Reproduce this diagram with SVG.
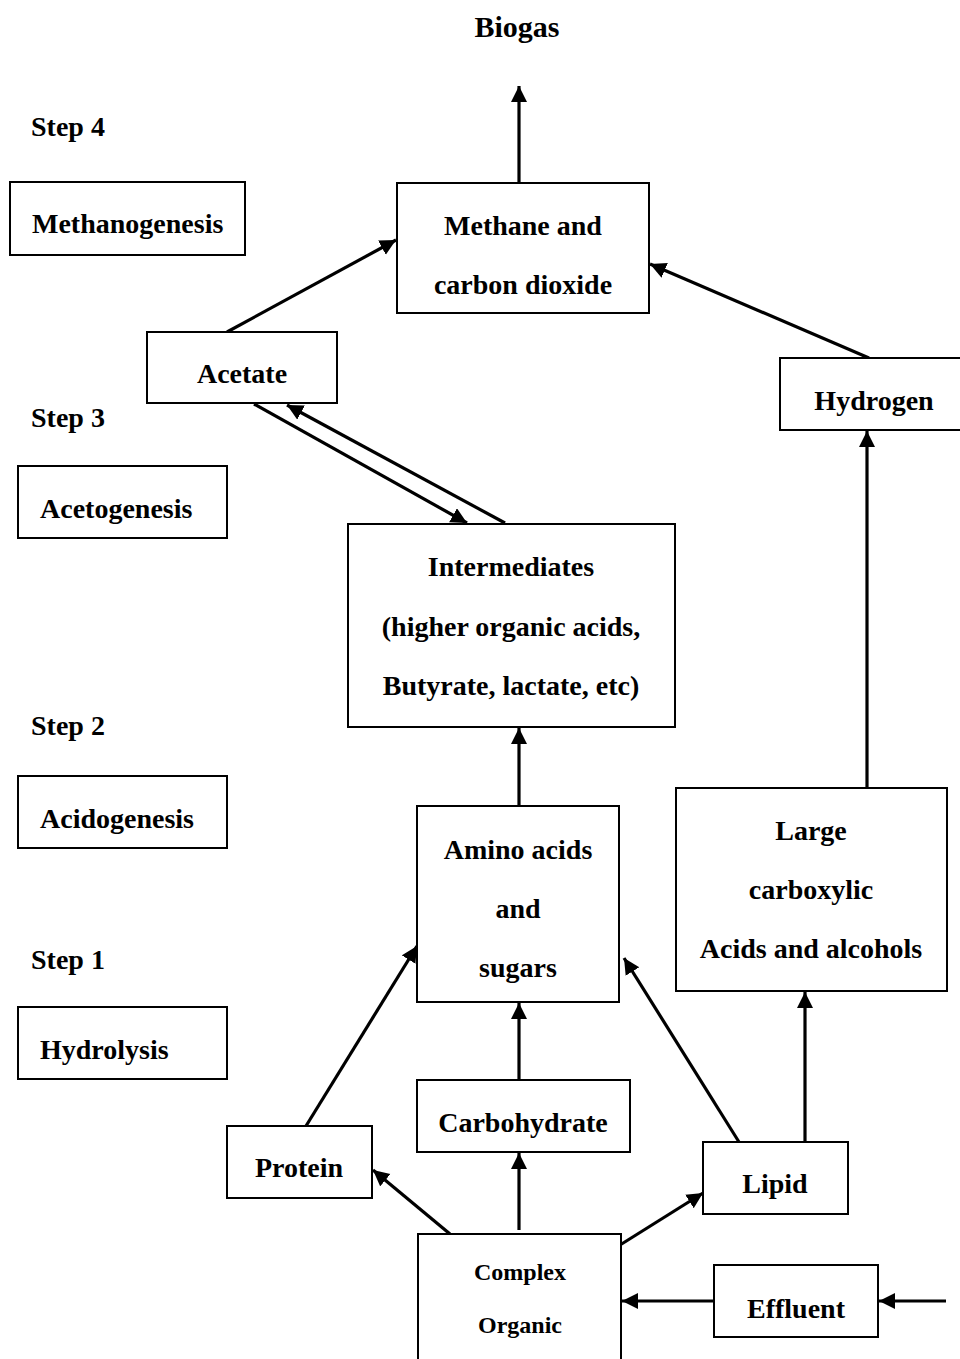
<svg xmlns="http://www.w3.org/2000/svg" width="960" height="1359" viewBox="0 0 960 1359">
<style>
.box{fill:#fff;stroke:#000;stroke-width:2}
.t{font-family:"Liberation Serif","Times New Roman",serif;font-weight:bold;font-size:28px;fill:#000}
.c{text-anchor:middle}
.s{font-size:24px}
.edge{stroke:#000;stroke-width:3.2;fill:none;marker-end:url(#ah)}
</style>
<defs>
<marker id="ah" markerUnits="userSpaceOnUse" markerWidth="17" markerHeight="17" refX="16" refY="8" orient="auto">
<path d="M0,0 L16,8 L0,16 z" fill="#000"/>
</marker>
</defs>
<rect width="960" height="1359" fill="#fff"/>
<g id="labels">
<text class="t c" x="517" y="37" style="font-size:30px">Biogas</text>
<text class="t" x="31" y="136">Step 4</text>
<text class="t" x="31" y="427">Step 3</text>
<text class="t" x="31" y="735">Step 2</text>
<text class="t" x="31" y="969">Step 1</text>
</g>
<g id="connectors">
<line class="edge" x1="519" y1="183" x2="519" y2="86"/>
<line class="edge" x1="227" y1="332" x2="396" y2="240"/>
<line class="edge" x1="869" y1="358" x2="650" y2="264"/>
<line class="edge" x1="254" y1="404" x2="467" y2="523"/>
<line class="edge" x1="505" y1="523" x2="287" y2="405"/>
<line class="edge" x1="519" y1="806" x2="519" y2="728"/>
<line class="edge" x1="867" y1="788" x2="867" y2="431"/>
<line class="edge" x1="306" y1="1126" x2="417" y2="946"/>
<line class="edge" x1="519" y1="1080" x2="519" y2="1003"/>
<line class="edge" x1="739" y1="1142" x2="624" y2="958"/>
<line class="edge" x1="805" y1="1142" x2="805" y2="992"/>
<line class="edge" x1="450" y1="1234" x2="373" y2="1170"/>
<line class="edge" x1="519" y1="1230" x2="519" y2="1153"/>
<line class="edge" x1="620" y1="1245" x2="703" y2="1193"/>
<line class="edge" x1="713" y1="1301" x2="622" y2="1301"/>
<line class="edge" x1="946" y1="1301" x2="879" y2="1301"/>
</g>
<g id="methanogenesis">
<rect class="box" x="10" y="182" width="235" height="73"/>
<text class="t" x="32" y="233">Methanogenesis</text>
</g>
<g id="methane">
<rect class="box" x="397" y="183" width="252" height="130"/>
<text class="t c" x="523" y="235">Methane and</text>
<text class="t c" x="523" y="294">carbon dioxide</text>
</g>
<g id="acetate">
<rect class="box" x="147" y="332" width="190" height="71"/>
<text class="t c" x="242" y="383">Acetate</text>
</g>
<g id="hydrogen">
<rect class="box" x="780" y="358" width="190" height="72"/>
<text class="t c" x="874" y="410">Hydrogen</text>
</g>
<g id="acetogenesis">
<rect class="box" x="18" y="466" width="209" height="72"/>
<text class="t" x="40" y="518">Acetogenesis</text>
</g>
<g id="intermediates">
<rect class="box" x="348" y="524" width="327" height="203"/>
<text class="t c" x="511" y="576">Intermediates</text>
<text class="t c" x="511" y="636">(higher organic acids,</text>
<text class="t c" x="511" y="695">Butyrate, lactate, etc)</text>
</g>
<g id="acidogenesis">
<rect class="box" x="18" y="776" width="209" height="72"/>
<text class="t" x="40" y="828">Acidogenesis</text>
</g>
<g id="amino">
<rect class="box" x="417" y="806" width="202" height="196"/>
<text class="t c" x="518" y="859">Amino acids</text>
<text class="t c" x="518" y="918">and</text>
<text class="t c" x="518" y="977">sugars</text>
</g>
<g id="large">
<rect class="box" x="676" y="788" width="271" height="203"/>
<text class="t c" x="811" y="840">Large</text>
<text class="t c" x="811" y="899">carboxylic</text>
<text class="t c" x="811" y="958">Acids and alcohols</text>
</g>
<g id="hydrolysis">
<rect class="box" x="18" y="1007" width="209" height="72"/>
<text class="t" x="40" y="1059">Hydrolysis</text>
</g>
<g id="carbohydrate">
<rect class="box" x="417" y="1080" width="213" height="72"/>
<text class="t c" x="523" y="1132">Carbohydrate</text>
</g>
<g id="protein">
<rect class="box" x="227" y="1126" width="145" height="72"/>
<text class="t c" x="299" y="1177">Protein</text>
</g>
<g id="lipid">
<rect class="box" x="703" y="1142" width="145" height="72"/>
<text class="t c" x="775" y="1193">Lipid</text>
</g>
<g id="complex">
<rect class="box" x="418" y="1234" width="203" height="140"/>
<text class="t c s" x="520" y="1280">Complex</text>
<text class="t c s" x="520" y="1333">Organic</text>
</g>
<g id="effluent">
<rect class="box" x="714" y="1265" width="164" height="72"/>
<text class="t c" x="796" y="1318">Effluent</text>
</g>
</svg>
